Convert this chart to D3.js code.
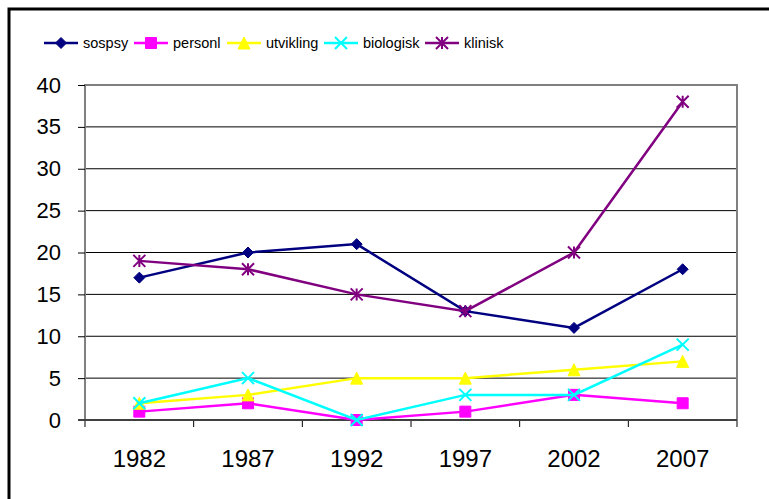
<!DOCTYPE html>
<html>
<head>
<meta charset="utf-8">
<script src="https://cdn.jsdelivr.net/npm/d3@7"></script>
<style>
  body { margin: 0; background: #fff; }
  svg { font-family: "Liberation Sans", Arial, sans-serif; }
</style>
</head>
<body>
<svg id="chart" width="769" height="499"></svg>
<script>
var years = ["1982", "1987", "1992", "1997", "2002", "2007"];
var yTicks = [0, 5, 10, 15, 20, 25, 30, 35, 40];

var sospsy = [17, 20, 21, 13, 11, 18];
var personl = [1, 2, 0, 1, 3, 2];
var utvikling = [2, 3, 5, 5, 6, 7];
var biologisk = [2, 5, 0, 3, 3, 9];
var klinisk = [19, 18, 15, 13, 20, 38];

var seriesNames = ["sospsy", "personl", "utvikling", "biologisk", "klinisk"];
var seriesColors = ["#000080", "#ff00ff", "#ffff00", "#00ffff", "#800080"];
var seriesMarkers = ["diamond", "square", "triangle", "x", "star"];

var data = [sospsy, personl, utvikling, biologisk, klinisk].map(function (v, i) {
  return { name: seriesNames[i], color: seriesColors[i], marker: seriesMarkers[i], values: v };
});

var svg = d3.select("#chart");

// outer frame (only left/top visible, rest cropped)
svg.append("rect")
  .attr("x", 9).attr("y", 9)
  .attr("width", 800).attr("height", 520)
  .attr("fill", "none")
  .attr("stroke", "#000")
  .attr("stroke-width", 3);

var margin = { top: 85, left: 85, right: 737, bottom: 420 };

var x = d3.scaleBand().domain(years).range([margin.left, margin.right]);
var y = d3.scaleLinear().domain([0, 40]).range([margin.bottom, margin.top]);

// gridlines
svg.append("g")
  .selectAll("line")
  .data(yTicks.filter(function (d) { return d > 0 && d < 40; }))
  .enter().append("line")
  .attr("x1", margin.left).attr("x2", margin.right)
  .attr("y1", function (d) { return y(d); })
  .attr("y2", function (d) { return y(d); })
  .attr("stroke", "#000")
  .attr("stroke-width", 1);

// plot border (gray)
svg.append("path")
  .attr("d", "M" + margin.left + "," + margin.bottom + "V" + margin.top + "H" + margin.right + "V" + margin.bottom)
  .attr("fill", "none")
  .attr("stroke", "#808080")
  .attr("stroke-width", 2);

// y axis
var yAxis = svg.append("g")
  .attr("transform", "translate(" + margin.left + ",0)")
  .call(d3.axisLeft(y).tickValues(yTicks).tickSize(7).tickPadding(17));
yAxis.select(".domain").remove();
yAxis.selectAll("line").attr("stroke", "#000");
yAxis.selectAll("text")
  .style("font-size", "22px")
  .style("font-family", "Liberation Sans, Arial, sans-serif")
  .attr("fill", "#000");

// x axis
var xAxis = svg.append("g")
  .attr("transform", "translate(0," + margin.bottom + ")")
  .call(d3.axisBottom(x).tickSize(0).tickPadding(30));
xAxis.select(".domain").remove();
xAxis.selectAll("text")
  .style("font-size", "24px")
  .style("font-family", "Liberation Sans, Arial, sans-serif")
  .attr("fill", "#000");

// category boundaries ticks
svg.append("g")
  .selectAll("line")
  .data(years.concat(["end"]))
  .enter().append("line")
  .attr("x1", function (d, i) { return margin.left + i * x.bandwidth(); })
  .attr("x2", function (d, i) { return margin.left + i * x.bandwidth(); })
  .attr("y1", margin.bottom)
  .attr("y2", margin.bottom + 7)
  .attr("stroke", "#000");

svg.append("line")
  .attr("x1", margin.left - 7).attr("x2", margin.right)
  .attr("y1", margin.bottom).attr("y2", margin.bottom)
  .attr("stroke", "#404040")
  .attr("stroke-width", 2);

function markerPath(type, r) {
  if (type == "diamond") return "M0," + (-r) + "L" + r + ",0L0," + r + "L" + (-r) + ",0Z";
  if (type == "square") return "M" + (-r) + "," + (-r) + "H" + r + "V" + r + "H" + (-r) + "Z";
  if (type == "triangle") return "M0," + (-r) + "L" + r + "," + r + "H" + (-r) + "Z";
  if (type == "x") return "M" + (-r) + "," + (-r) + "L" + r + "," + r + "M" + r + "," + (-r) + "L" + (-r) + "," + r;
  // star / asterisk
  return "M" + (-r) + "," + (-r) + "L" + r + "," + r + "M" + r + "," + (-r) + "L" + (-r) + "," + r + "M0," + (-r) + "V" + r;
}

function drawMarker(sel, d) {
  var filled = d.marker == "diamond" || d.marker == "square" || d.marker == "triangle";
  sel.attr("d", markerPath(d.marker, d.marker == "triangle" ? 6 : (filled ? 5.5 : 6)))
    .attr("fill", filled ? d.color : "none")
    .attr("stroke", d.color)
    .attr("stroke-width", filled ? 1 : 2);
}

var line = d3.line()
  .x(function (d, i) { return x(years[i]) + x.bandwidth() / 2; })
  .y(function (d) { return y(d); });

var groups = svg.append("g").selectAll("g")
  .data(data)
  .enter().append("g");

groups.append("path")
  .attr("d", function (d) { return line(d.values); })
  .attr("fill", "none")
  .attr("stroke", function (d) { return d.color; })
  .attr("stroke-width", 2.5);

groups.each(function (d) {
  d3.select(this).selectAll(".mk")
    .data(d.values)
    .enter().append("path")
    .attr("class", "mk")
    .attr("transform", function (v, i) {
      return "translate(" + (x(years[i]) + x.bandwidth() / 2) + "," + y(v) + ")";
    })
    .each(function () { drawMarker(d3.select(this), d); });
});

// legend
var legendX = [44, 134, 227, 324, 425];
var legend = svg.append("g").selectAll("g")
  .data(data)
  .enter().append("g")
  .attr("transform", function (d, i) { return "translate(" + legendX[i] + ",43)"; });

legend.append("line")
  .attr("x1", 0).attr("x2", 34)
  .attr("stroke", function (d) { return d.color; })
  .attr("stroke-width", 2.5);

legend.append("path")
  .attr("transform", "translate(17,0)")
  .each(function (d) { drawMarker(d3.select(this), d); });

legend.append("text")
  .attr("x", 39)
  .attr("dy", "0.35em")
  .style("font-size", "14.5px")
  .text(function (d) { return d.name; });
</script>
</body>
</html>
